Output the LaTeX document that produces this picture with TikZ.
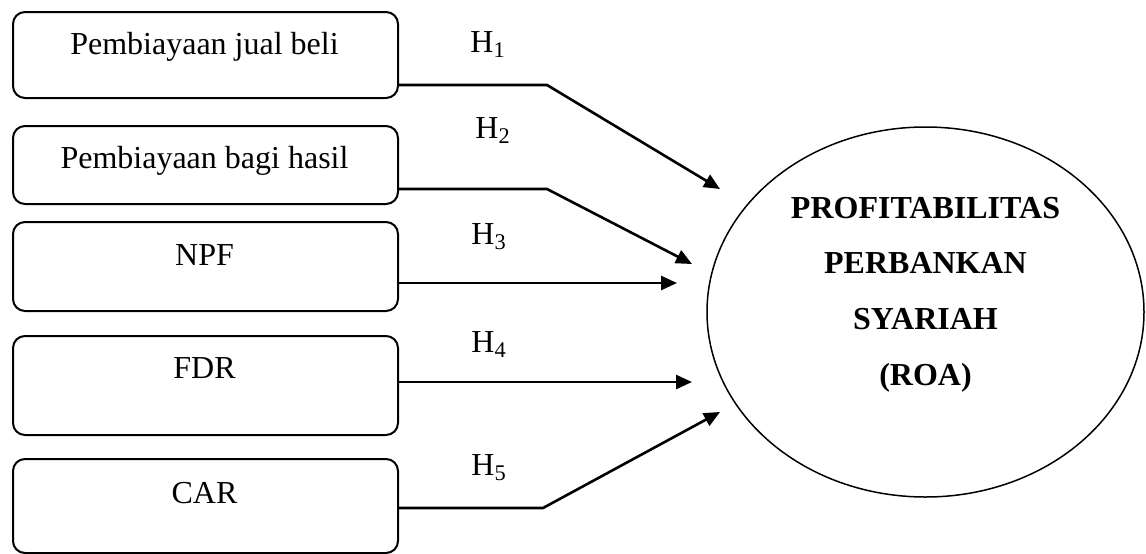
\documentclass[tikz,border=0pt]{standalone}
\usepackage{fontspec}
\setmainfont{Liberation Serif}
\usetikzlibrary{arrows.meta,shapes.geometric}
\begin{document}
\begin{tikzpicture}[x=0.5pt,y=-0.5pt,
  box/.style={draw,line width=1pt,rounded corners=6pt,minimum width=192.5pt,anchor=north west,inner sep=0pt},
  btext/.style={anchor=base,inner sep=0pt,font=\fontsize{16}{19}\selectfont},
  hlab/.style={anchor=base west,inner sep=0pt,font=\fontsize{16}{19}\selectfont},
  conn/.style={line width=1.3pt,-{Triangle[length=8pt,width=7pt]}},
  roastyle/.style={draw,ellipse,line width=0.75pt,minimum width=218.5pt,minimum height=185pt,inner sep=0pt}]
\useasboundingbox (0,0) rectangle (1146,553);
\fill[white] (0,0) rectangle (1146,553);
% boxes
\node[box,minimum height=43pt] (b1) at (12,11) {};
\node[box,minimum height=39pt] (b2) at (12,125) {};
\node[box,minimum height=44.5pt] (b3) at (12,221) {};
\node[box,minimum height=49.5pt] (b4) at (12,335) {};
\node[box,minimum height=47pt] (b5) at (12,458) {};
% box texts
\node[btext] (t1) at (204.5,54) {Pembiayaan jual beli};
\node[btext] (t2) at (204.5,168) {Pembiayaan bagi hasil};
\node[btext] (t3) at (204.5,265) {NPF};
\node[btext] (t4) at (204.5,378) {FDR};
\node[btext] (t5) at (204.5,503) {CAR};
% ellipse
\node[roastyle] (roa) at (925.5,312) {};
\node[align=center,inner sep=0pt,font=\fontsize{16}{27.8}\selectfont\bfseries] (roatext) at (925.5,294.5)
  {PROFITABILITAS\\PERBANKAN\\SYARIAH\\(ROA)};
% hypothesis labels
\node[hlab] (h1) at (470,52) {H\textsubscript{1}};
\node[hlab] (h2) at (475,138) {H\textsubscript{2}};
\node[hlab] (h3) at (471,244) {H\textsubscript{3}};
\node[hlab] (h4) at (471,352) {H\textsubscript{4}};
\node[hlab] (h5) at (471,475) {H\textsubscript{5}};
% connector points
\coordinate (s1) at (b1.east |- 0,85);
\coordinate (s2) at (b2.east |- 0,189);
\coordinate (s3) at (b3.east |- 0,283);
\coordinate (s4) at (b4.east |- 0,382);
\coordinate (s5) at (b5.east |- 0,508);
\coordinate (k1) at (547,85);
\coordinate (k2) at (547,189);
\coordinate (k5) at (543,508);
\coordinate (e1) at (720,189);
\coordinate (e2) at (692,264);
\coordinate (e3) at (677,283);
\coordinate (e4) at (692,382);
\coordinate (e5) at (720,412);
\draw[conn] (s1) -- (k1) -- (e1);
\draw[conn] (s2) -- (k2) -- (e2);
\draw[conn] (s3) -- (e3);
\draw[conn] (s4) -- (e4);
\draw[conn] (s5) -- (k5) -- (e5);
\end{tikzpicture}
\end{document}
